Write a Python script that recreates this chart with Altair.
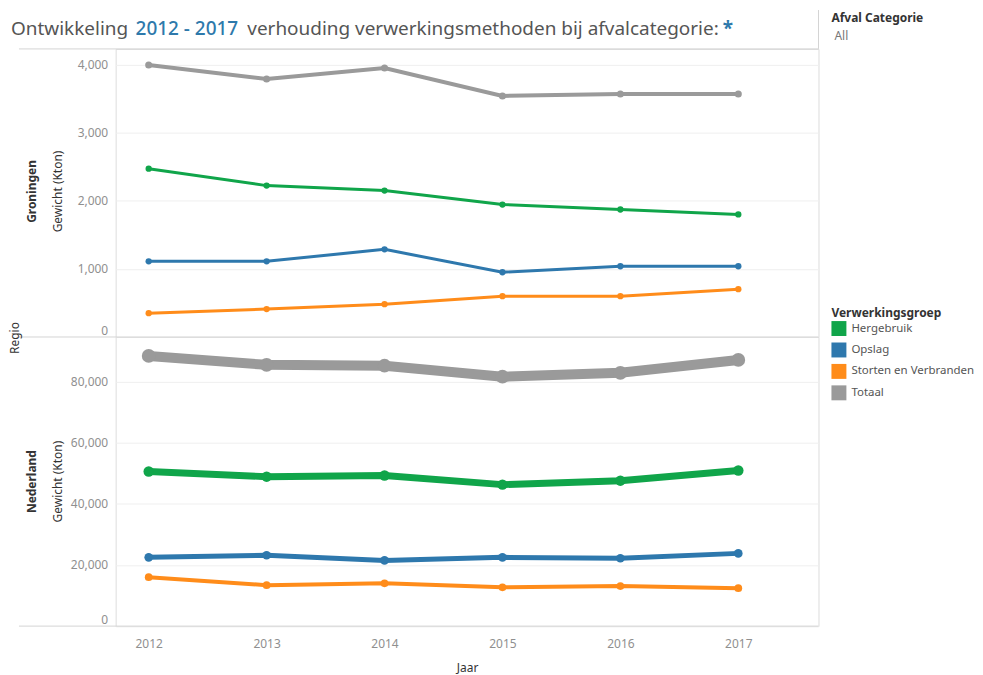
import altair as alt
import pandas as pd

years = [2012, 2013, 2014, 2015, 2016, 2017]
groups = ["Hergebruik", "Opslag", "Storten en Verbranden", "Totaal"]
colors = ["#10a54a", "#2e78ad", "#ff8c1a", "#9a9a9a"]

gron_hergebruik = [2474, 2225, 2152, 1947, 1874, 1801]
gron_opslag = [1113, 1113, 1288, 952, 1040, 1040]
gron_storten = [351, 410, 483, 600, 600, 703]
gron_totaal = [3997, 3792, 3953, 3543, 3572, 3572]

nl_hergebruik = [50600, 48900, 49300, 46300, 47600, 50900]
nl_opslag = [22500, 23200, 21500, 22500, 22200, 23800]
nl_storten = [16000, 13400, 14000, 12700, 13100, 12400]
nl_totaal = [88400, 85500, 85200, 81600, 82900, 87100]

gron_ticks = [0, 1000, 2000, 3000, 4000]
nl_ticks = [0, 20000, 40000, 60000, 80000]

FONT = "Noto Sans"
W = 705
H_TOP = 289
H_BOT = 290


def make_df(series):
    rows = []
    for g, vals in zip(groups, series):
        for y, v in zip(years, vals):
            rows.append({"year": y, "group": g, "value": v})
    return pd.DataFrame(rows)


gron_df = make_df([gron_hergebruik, gron_opslag, gron_storten, gron_totaal])
nl_df = make_df([nl_hergebruik, nl_opslag, nl_storten, nl_totaal])

one = pd.DataFrame({"k": [0]})

color = alt.Color(
    "group:N",
    scale=alt.Scale(domain=groups, range=colors),
    sort=groups,
    legend=alt.Legend(
        title="Verwerkingsgroep",
        orient="none",
        legendX=718,
        legendY=260,
        symbolType="square",
        symbolSize=225,
        symbolStrokeWidth=0,
        symbolOpacity=1,
        titleFont=FONT,
        titleFontSize=12,
        titleFontWeight="bold",
        titleColor="#333333",
        labelFont=FONT,
        labelFontSize=11.5,
        labelColor="#555555",
        labelOffset=5,
        rowPadding=6.5,
        titlePadding=1,
    ),
)


def text_mark(txt, x, y, size=12, weight="normal", col="#333333", angle=0, align="center", baseline="middle"):
    return alt.Chart(one).mark_text(
        text=txt, font=FONT, fontSize=size, fontWeight=weight, color=col,
        angle=angle, align=align, baseline=baseline,
    ).encode(x=alt.value(x), y=alt.value(y))


def rule(x, x2, y, y2):
    return alt.Chart(one).mark_rule(color="#d4d4d4", strokeWidth=1).encode(
        x=alt.value(x), x2=alt.value(x2), y=alt.value(y), y2=alt.value(y2)
    )


def panel(df, ydomain, yticks, widths, sizes, show_x):
    xaxis = None
    if show_x:
        xaxis = alt.Axis(
            values=years, format="d", title="Jaar", grid=False, ticks=False,
            domain=False, labelFont=FONT, labelFontSize=12, labelColor="#8f8f8f",
            labelPadding=12, titleFont=FONT, titleFontSize=12,
            titleFontWeight="normal", titleColor="#333333", titlePadding=14,
        )
    x = alt.X("year:Q", scale=alt.Scale(domain=[2011.72, 2017.68], nice=False, zero=False), axis=xaxis)
    y = alt.Y(
        "value:Q",
        scale=alt.Scale(domain=ydomain, nice=False, zero=False),
        axis=alt.Axis(
            values=yticks, format=",d", title=None, ticks=False, domain=False,
            labelFlush=True, labelFont=FONT, labelFontSize=12, labelColor="#8f8f8f",
            labelPadding=8, gridColor="#efefef", gridWidth=1,
        ),
    )
    base = alt.Chart(df)
    lines = base.mark_line().encode(
        x=x, y=y, color=color,
        strokeWidth=alt.StrokeWidth(
            "group:N", scale=alt.Scale(type="ordinal", domain=groups, range=widths), legend=None
        ),
    )
    points = base.mark_point(filled=True, opacity=1).encode(
        x=x, y=y, color=color,
        size=alt.Size(
            "group:N", scale=alt.Scale(type="ordinal", domain=groups, range=sizes), legend=None
        ),
    )
    return lines, points


g_lines, g_points = panel(gron_df, [0, 4234], gron_ticks, [3, 3, 3, 4], [40, 40, 40, 50], False)
n_lines, n_points = panel(nl_df, [0, 94600], nl_ticks, [7, 5, 4, 10], [110, 75, 60, 190], True)

top = alt.layer(
    g_lines, g_points,
    rule(-97, W, 0, 0),
    rule(-97, W, H_TOP, H_TOP),
    rule(W, W, -39, 0),
    text_mark("Groningen", -84, 143, weight="bold", angle=270),
    text_mark("Gewicht (Kton)", -58, 143, angle=270),
    text_mark("Regio", -101, 290, angle=270),
    text_mark("Ontwikkeling", -105, -14, size=19, col="#555555", align="left", baseline="alphabetic"),
    text_mark("2012 - 2017", 20, -14, size=19, col="#2e79ab", weight=500, align="left", baseline="alphabetic"),
    text_mark("verhouding verwerkingsmethoden bij afvalcategorie:", 132, -14, size=19, col="#555555", align="left", baseline="alphabetic"),
    text_mark("*", 609, -14, size=19, col="#2e79ab", weight="bold", align="left", baseline="alphabetic"),
    text_mark("Afval Categorie", 718, -31, weight="bold", align="left"),
    text_mark("All", 721, -13, col="#777777", align="left"),
).properties(width=W, height=H_TOP)

bottom = alt.layer(
    n_lines, n_points,
    rule(-97, W, H_BOT, H_BOT),
    text_mark("Nederland", -84, 145, weight="bold", angle=270),
    text_mark("Gewicht (Kton)", -58, 145, angle=270),
).properties(width=W, height=H_BOT)

chart = alt.vconcat(top, bottom, spacing=0, bounds="flush").resolve_scale(
    y="independent", x="shared", strokeWidth="independent", size="independent", color="shared"
).properties(
    padding=0,
).configure_view(stroke="#d4d4d4", strokeWidth=1).configure(font=FONT)

chart.save("out.html", embed_options={"renderer": "svg", "actions": False})
